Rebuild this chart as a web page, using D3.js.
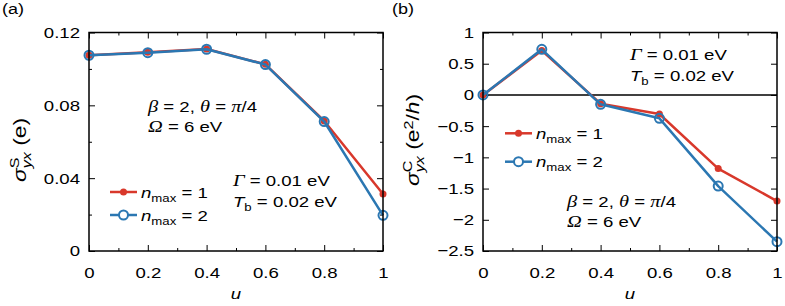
<!DOCTYPE html>
<html><head><meta charset="utf-8">
<script src="https://cdn.jsdelivr.net/npm/d3@7"></script>
<style>
body{margin:0;background:#fff;}
text{font-family:"Liberation Sans",Arial,Helvetica,sans-serif;white-space:pre;}
</style></head>
<body><svg id="c" width="785" height="306"></svg>
<script>
// ---- data ----
const uVals = [0, 0.2, 0.4, 0.6, 0.8, 1];
const sigmaS_n1 = [0.1075, 0.1091, 0.1109, 0.1025, 0.0714, 0.0313];
const sigmaS_n2 = [0.1075, 0.1089, 0.1108, 0.1024, 0.0711, 0.0196];
const sigmaC_n1 = [0, 0.71, -0.14, -0.305, -1.18, -1.70];
const sigmaC_n2 = [0, 0.73, -0.15, -0.375, -1.46, -2.35];
const xTicks = [0, 0.2, 0.4, 0.6, 0.8, 1];
const xMinor = [0.1, 0.3, 0.5, 0.7, 0.9];
const yTicksA = [0, 0.04, 0.08, 0.12];
const yMinorA = [0.02, 0.06, 0.1];
const yTicksB = [1, 0.5, 0, -0.5, -1, -1.5, -2, -2.5];
const RED = "#d8382b", BLUE = "#2b77b2";

const svg = d3.select("#c");
const FS = 15.5;
const SX = 1.2;

function rich(g, x, y, parts, anchor, sx, fs) {
  sx = sx || SX; fs = fs || FS;
  const grp = g.append("g");
  let cx = 0, prevStart = 0, prevW = 0;
  parts.forEach(p => {
    const el = grp.append("text")
      .attr("y", p.dy || 0)
      .style("font-size", (p.size ? p.size * fs / FS : fs) + "px")
      .style("font-style", p.it ? "italic" : "normal")
      .text(p.t);
    if (p.serif) el.style("font-family", "'Liberation Serif','Times New Roman',serif");
    const w = el.node().getComputedTextLength();
    if (p.stack) {
      el.attr("x", prevStart);
      cx = prevStart + Math.max(prevW, w);
    } else {
      el.attr("x", cx);
      prevStart = cx; prevW = w;
      cx += w;
    }
  });
  let off = 0;
  if (anchor === "middle") off = -cx * sx / 2;
  grp.attr("transform", `translate(${x + off},${y}) scale(${sx},1)`);
  return grp;
}

function panel(opt) {
  const x = d3.scaleLinear().domain([0, 1]).range([opt.x0, opt.x1]);
  const y = d3.scaleLinear().domain(opt.yDomain).range([opt.y1, opt.y0]);
  const g = svg.append("g");

  const style = sel => {
    sel.select(".domain").remove();
    sel.selectAll("line").attr("stroke", "#000").attr("stroke-width", 1);
    sel.selectAll("text").style("font-size", FS + "px").attr("fill", "#000")
      .style("font-family", "'Liberation Sans',Arial,sans-serif");
  };

  const bx = g.append("g").attr("transform", `translate(0,${opt.y1})`)
    .call(d3.axisBottom(x).tickValues(xTicks).tickSize(-6).tickPadding(16).tickFormat(d3.format("~g"))).call(style);
  bx.selectAll("text").attr("transform", `scale(${SX},1)`);
  g.append("g").attr("transform", `translate(0,${opt.y1})`)
    .call(d3.axisBottom(x).tickValues(xMinor).tickSize(-3).tickFormat("")).call(style);
  g.append("g").attr("transform", `translate(0,${opt.y0})`)
    .call(d3.axisTop(x).tickValues(xTicks).tickSize(-6).tickFormat("")).call(style);
  g.append("g").attr("transform", `translate(0,${opt.y0})`)
    .call(d3.axisTop(x).tickValues(xMinor).tickSize(-3).tickFormat("")).call(style);

  const ly = g.append("g").attr("transform", `translate(${opt.x0},0)`)
    .call(d3.axisLeft(y).tickValues(opt.yTicks).tickSize(-6).tickPadding(9).tickFormat(opt.yFmt)).call(style);
  ly.selectAll("text").attr("x", 0).attr("transform", `translate(-9,0) scale(${SX},1)`);
  g.append("g").attr("transform", `translate(${opt.x1},0)`)
    .call(d3.axisRight(y).tickValues(opt.yTicks).tickSize(-6).tickFormat("")).call(style);
  if (opt.yMinor) {
    g.append("g").attr("transform", `translate(${opt.x0},0)`)
      .call(d3.axisLeft(y).tickValues(opt.yMinor).tickSize(-3).tickFormat("")).call(style);
    g.append("g").attr("transform", `translate(${opt.x1},0)`)
      .call(d3.axisRight(y).tickValues(opt.yMinor).tickSize(-3).tickFormat("")).call(style);
  }

  if (opt.zeroLine) {
    g.append("line").attr("x1", opt.x0).attr("x2", opt.x1).attr("y1", y(0)).attr("y2", y(0))
      .attr("stroke", "#000").attr("stroke-width", 1.5);
  }

  const line = d3.line().x((d, i) => x(uVals[i])).y(d => y(d));
  // n_max = 1
  g.append("path").datum(opt.n1).attr("d", line).attr("fill", "none").attr("stroke", RED).attr("stroke-width", 2.5).attr("stroke-linejoin", "round");
  g.selectAll(".d1").data(opt.n1).enter().append("circle")
    .attr("cx", (d, i) => x(uVals[i])).attr("cy", d => y(d)).attr("r", 3.5).attr("fill", RED);
  // n_max = 2
  g.append("path").datum(opt.n2).attr("d", line).attr("fill", "none").attr("stroke", BLUE).attr("stroke-width", 2.5).attr("stroke-linejoin", "round");
  g.selectAll(".d2").data(opt.n2).enter().append("circle")
    .attr("cx", (d, i) => x(uVals[i])).attr("cy", d => y(d)).attr("r", 4.5).attr("fill", "none").attr("stroke", BLUE).attr("stroke-width", 2);

  // frame
  g.append("rect").attr("x", opt.x0).attr("y", opt.y0).attr("width", opt.x1 - opt.x0).attr("height", opt.y1 - opt.y0)
    .attr("fill", "none").attr("stroke", "#000").attr("stroke-width", 1.5);

  // legend
  const L = opt.leg;
  [[RED, "1", L.y1, false], [BLUE, "2", L.y2, true]].forEach(([c, n, lyy, open]) => {
    g.append("line").attr("x1", L.x).attr("x2", L.x + 27).attr("y1", lyy).attr("y2", lyy).attr("stroke", c).attr("stroke-width", 2.5);
    if (open) g.append("circle").attr("cx", L.x + 13.5).attr("cy", lyy).attr("r", 4.5).attr("fill", "#fff").attr("stroke", c).attr("stroke-width", 2);
    else g.append("circle").attr("cx", L.x + 13.5).attr("cy", lyy).attr("r", 3.5).attr("fill", c);
    rich(g, L.x + 31, lyy + 5.5, [{t: "n", it: true}, {t: "max", size: 11, dy: 4}, {t: " = " + n}]);
  });

  // annotations
  rich(g, opt.bx, opt.by, [{t: "β", it: true, serif: true, size: 17}, {t: " = 2, "}, {t: "θ", it: true, serif: true, size: 17}, {t: " = "}, {t: "π", it: true, serif: true, size: 17}, {t: "/4"}]);
  rich(g, opt.bx, opt.by + 20, [{t: "Ω", it: true, serif: true, size: 17}, {t: " = 6 eV"}]);
  rich(g, opt.gx, opt.gy, [{t: "Γ", it: true, serif: true, size: 17}, {t: " = 0.01 eV"}]);
  rich(g, opt.gx, opt.gy + 21, [{t: "T", it: true}, {t: "b", size: 11, dy: 4}, {t: " = 0.02 eV"}]);

  // axis labels
  rich(g, (opt.x0 + opt.x1) / 2, 299, [{t: "u", it: true}], "middle");
  const yl = g.append("g").attr("transform", `translate(${opt.ylx},${opt.yly}) rotate(-90)`);
  rich(yl, 0, 0, opt.ylabel, "middle", 1.3, 17.5);

  // panel tag
  rich(g, opt.tagx, 14, [{t: opt.tag}], null, 1.2, 15);
}

panel({
  x0: 89, x1: 383, y0: 32.5, y1: 251, yDomain: [0, 0.12], yTicks: yTicksA, yMinor: yMinorA,
  yFmt: d => d === 0 ? "0" : d3.format(".2f")(d),
  n1: sigmaS_n1, n2: sigmaS_n2, zeroLine: false,
  leg: {x: 110, y1: 192, y2: 215},
  bx: 148, by: 112, gx: 233, gy: 186,
  ylx: 26, yly: 150,
  ylabel: [{t: "σ", it: true}, {t: "S", size: 11, dy: -7}, {t: "yx", it: true, size: 11, dy: 5, stack: true}, {t: " (e)"}],
  tag: "(a)", tagx: 2
});
panel({
  x0: 483, x1: 777, y0: 32.5, y1: 251, yDomain: [-2.5, 1], yTicks: yTicksB, yMinor: null,
  yFmt: d => d === 0 ? "0" : d3.format("~g")(d).replace("-", "\u2212"),
  n1: sigmaC_n1, n2: sigmaC_n2, zeroLine: true,
  leg: {x: 505, y1: 133.3, y2: 161.7},
  bx: 567, by: 207, gx: 630, gy: 60,
  ylx: 419, yly: 140,
  ylabel: [{t: "σ", it: true}, {t: "C", size: 11, dy: -7}, {t: "yx", it: true, size: 11, dy: 5, stack: true}, {t: " (e"}, {t: "2", size: 11, dy: -6}, {t: "/"}, {t: "h", it: true}, {t: ")"}],
  tag: "(b)", tagx: 392
});
</script></body></html>
